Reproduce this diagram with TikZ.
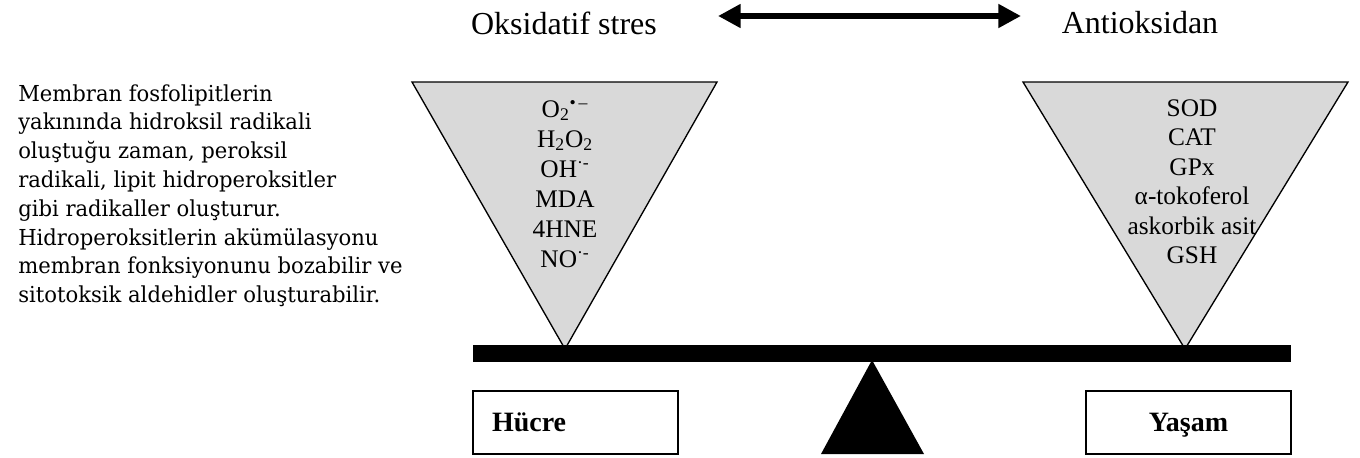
\documentclass[tikz,border=0pt]{standalone}
\usepackage{fontspec}
\setmainfont{Liberation Serif}
\newfontfamily\notefont[FakeStretch=0.96]{DejaVu Serif}
\usetikzlibrary{arrows.meta}
\definecolor{panfill}{RGB}{217,217,217}
\tikzset{
  pan/.style={fill=panfill, draw=black, line width=1pt},
  pantext/.style={anchor=base, inner sep=0pt, font=\fontsize{19}{23}\selectfont},
  headtext/.style={anchor=base, inner sep=0pt, font=\fontsize{24}{28}\selectfont},
  notetext/.style={anchor=base west, inner sep=0pt, font=\notefont\fontsize{16.5}{20}\selectfont},
  labelbox/.style={draw, line width=1pt, minimum width=153.75pt, minimum height=47.25pt,
    text height=14pt, text depth=0pt, font=\bfseries\fontsize{21}{25}\selectfont},
  balance/.style={{Triangle[length=17pt,width=17pt]}-{Triangle[length=17pt,width=17pt]}, line width=5pt},
}
\begin{document}
\begin{tikzpicture}[x=0.75pt,y=-0.75pt]
  \useasboundingbox (0,0) rectangle (1360,457);

  % headings and the double arrow
  \node[headtext] (oks) at (564,34) {Oksidatif stres};
  \node[headtext] (anti) at (1140,33) {Antioksidan};
  \coordinate (arrL) at (718,16);
  \coordinate (arrR) at (1021,16);
  \draw[balance] (arrL) -- (arrR);

  % note on the left
  \foreach \line [count=\i from 0] in {Membran fosfolipitlerin,
      yakınında hidroksil radikali, {oluştuğu zaman, peroksil},
      {radikali, lipit hidroperoksitler}, gibi radikaller oluşturur.,
      Hidroperoksitlerin akümülasyonu, membran fonksiyonunu bozabilir ve,
      sitotoksik aldehidler oluşturabilir.}
    \node[notetext] (note\i) at (18,101+28.8*\i) {\line};

  % the two pans
  \draw[pan] (412,82) -- (717,82) -- (565,349) -- cycle;
  \draw[pan] (1023,82) -- (1348,82) -- (1185,349) -- cycle;

  \foreach \txt [count=\i from 0] in {O\textsubscript{2}\textsuperscript{•\,–},
      H\textsubscript{2}O\textsubscript{2}, OH\textsuperscript{·-}, MDA, 4HNE,
      NO\textsuperscript{·-}}
    \node[pantext] (ros\i) at (565,117+30*\i) {\txt};
  \foreach \txt [count=\i from 0] in {SOD, CAT, GPx, α-tokoferol,
      askorbik asit, GSH}
    \node[pantext] (aox\i) at (1192,116+29.5*\i) {\txt};

  % beam, fulcrum and boxes
  \fill (473,345) rectangle (1291,362);
  \fill (872,360) -- (924,454) -- (821,454) -- cycle;
  \node[labelbox, text width=125.25pt, inner xsep=14.25pt, align=left] (hucre) at (575.5,422.5) {Hücre};
  \node[labelbox] (yasam) at (1188.5,422.5) {Yaşam};
\end{tikzpicture}
\end{document}
